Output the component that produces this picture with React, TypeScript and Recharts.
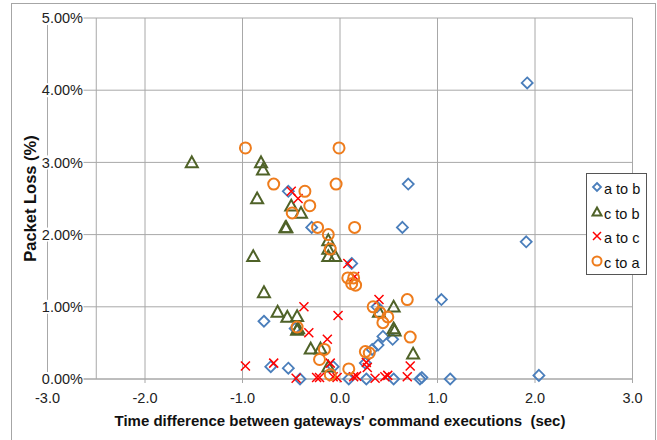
import { ScatterChart, Scatter, XAxis, YAxis, CartesianGrid, ReferenceLine, Legend } from "recharts";

const xTicks = [-3, -2, -1, 0, 1, 2, 3];
const yTicks = [0, 1, 2, 3, 4, 5];

// [time difference (sec), packet loss (%)]
const aToB = [
    [-0.78, 0.8], [-0.71, 0.17], [-0.53, 0.15], [-0.53, 2.6], [-0.46, 0.7], [-0.41, 0.0],
    [-0.29, 2.1], [-0.07, 0.17], [0.09, 0.0], [0.12, 1.6], [0.26, 0.22], [0.27, 0.0],
    [0.33, 0.41], [0.39, 0.47], [0.38, 1.0], [0.44, 0.59], [0.54, 0.55], [0.55, 0.0],
    [0.64, 2.1], [0.7, 2.7], [0.82, 0.0], [0.84, 0.02], [1.04, 1.1], [1.13, 0.0],
    [1.91, 1.9], [1.92, 4.1], [2.04, 0.05],
];
const cToB = [
    [-1.52, 3.0], [-0.89, 1.7], [-0.85, 2.5], [-0.81, 3.0], [-0.79, 2.9], [-0.78, 1.2],
    [-0.64, 0.93], [-0.56, 2.1], [-0.55, 2.1], [-0.54, 0.86], [-0.5, 2.4], [-0.44, 0.87],
    [-0.44, 0.68], [-0.43, 0.7], [-0.4, 2.3], [-0.3, 0.42], [-0.2, 0.42], [-0.12, 1.92],
    [-0.12, 1.8], [-0.12, 1.7], [-0.12, 0.17], [-0.05, 1.7], [0.4, 0.93], [0.55, 1.0],
    [0.55, 0.7], [0.56, 0.67], [0.75, 0.35],
];
const aToC = [
    [-0.97, 0.18], [-0.68, 0.22], [-0.5, 2.6], [-0.45, 0.01], [-0.43, 2.5], [-0.37, 1.0],
    [-0.32, 0.64], [-0.24, 0.02], [-0.21, 0.02], [-0.13, 0.55], [-0.1, 0.22], [-0.07, 0.03],
    [-0.03, 0.02], [-0.02, 0.88], [0.08, 1.6], [0.14, 0.03], [0.15, 1.42], [0.17, 0.04],
    [0.27, 0.23], [0.28, 0.16], [0.36, 0.01], [0.4, 1.1], [0.46, 0.03], [0.49, 0.05],
    [0.69, 0.03], [0.72, 0.18],
];
const cToA = [
    [-0.97, 3.2], [-0.68, 2.7], [-0.49, 2.3], [-0.44, 0.72], [-0.36, 2.6], [-0.31, 2.4],
    [-0.23, 2.1], [-0.21, 0.27], [-0.16, 0.41], [-0.12, 2.0], [-0.1, 1.8], [-0.1, 0.06],
    [-0.04, 2.7], [-0.01, 3.2], [0.08, 1.4], [0.09, 0.14], [0.12, 1.32], [0.14, 1.4],
    [0.16, 1.3], [0.15, 2.1], [0.26, 0.38], [0.3, 0.36], [0.34, 1.0], [0.41, 0.92],
    [0.44, 0.78], [0.49, 0.86], [0.69, 1.1], [0.72, 0.58],
];

const toPoints = (arr: number[][]) => arr.map(([x, y]) => ({ x, y }));

const BLUE = "#4A7EBB";
const GREEN = "#4F6228";
const RED = "#FF0000";
const ORANGE = "#EE7C1C";
const GRID = "#A8A8A8";
const FONT = "'Liberation Sans', Arial, sans-serif";

const Diamond = ({ cx, cy, s = 5.5 }: any) => (
    <path d={`M${cx},${cy - s}L${cx + s},${cy}L${cx},${cy + s}L${cx - s},${cy}Z`} fill="none" stroke={BLUE} strokeWidth={1.8} />
);
const Triangle = ({ cx, cy, s = 6 }: any) => (
    <path d={`M${cx},${cy - s}L${cx + s},${cy + s * 0.8}L${cx - s},${cy + s * 0.8}Z`} fill="none" stroke={GREEN} strokeWidth={2} strokeLinejoin="miter" />
);
const Cross = ({ cx, cy, s = 4.5 }: any) => (
    <path d={`M${cx - s},${cy - s}L${cx + s},${cy + s}M${cx + s},${cy - s}L${cx - s},${cy + s}`} stroke={RED} strokeWidth={1.5} />
);
const Ring = ({ cx, cy, s = 5.5 }: any) => (
    <circle cx={cx} cy={cy} r={s} fill="none" stroke={ORANGE} strokeWidth={2} />
);

const legendItems = [
    { name: "a to b", Mark: Diamond, s: 4 },
    { name: "c to b", Mark: Triangle, s: 4.5 },
    { name: "a to c", Mark: Cross, s: 4 },
    { name: "c to a", Mark: Ring, s: 4.5 },
];

const LegendBox = () => (
    <div style={{ width: 59, height: 97, border: "1px solid #555", background: "#fff", fontFamily: FONT, fontSize: 14.5, color: "#111", paddingTop: 3, boxSizing: "content-box" }}>
        {legendItems.map(({ name, Mark, s }) => (
            <div key={name} style={{ height: 24.5, display: "flex", alignItems: "center" }}>
                <svg width={18} height={20} style={{ display: "block" }}>
                    <Mark cx={10} cy={8} s={s} />
                </svg>
                <span style={{ marginLeft: -1 }}>{name}</span>
            </div>
        ))}
    </div>
);

const YTick = (props: any) => {
    const { x, y, payload } = props;
    return (
        <g>
            <rect x={x - 7} y={y - 7} width={43} height={14} fill="#fff" />
            <text x={x + 35.5} y={y} dy="0.36em" textAnchor="end" fontSize={14.5} fontFamily={FONT} fill="#222">
                {Number(payload.value).toFixed(2)}%
            </text>
        </g>
    );
};

const YTitle = (props: any) => {
    const vb = props.viewBox || {};
    const cx = vb.x - 16.5;
    const cy = vb.y + vb.height / 2;
    return (
        <text x={cx} y={cy} transform={`rotate(-90 ${cx} ${cy})`} textAnchor="middle" dy="0.35em" fontSize={16.5} fontWeight="bold" fontFamily={FONT} fill="#111">
            Packet Loss (%)
        </text>
    );
};

export default function App() {
    return (
        <div style={{ position: "absolute", left: 0, top: 0, width: 657, height: 440, background: "#fff", overflow: "hidden" }}>
            <div style={{ position: "absolute", left: 11, top: 3, width: 643, height: 450, border: "1px solid #A6A6A6" }} />
            <ScatterChart width={657} height={440} margin={{ top: 18, right: 24.5, bottom: 11, left: 46.5 }}>
                <CartesianGrid stroke={GRID} strokeWidth={1} />
                <XAxis
                    type="number"
                    dataKey="x"
                    domain={[-3, 3]}
                    ticks={xTicks}
                    tickFormatter={(v: number) => v.toFixed(1)}
                    axisLine={{ stroke: GRID }}
                    tickLine={{ stroke: GRID }}
                    tickSize={4}
                    tickMargin={10}
                    height={50}
                    tick={{ fontSize: 14.5, fontFamily: FONT, fill: "#222" }}
                    label={{
                        value: "Time difference between gateways' command executions \u00A0(sec)",
                        position: "insideBottom",
                        offset: 3,
                        style: { fontSize: 15, fontWeight: "bold", fontFamily: FONT, fill: "#111" },
                    }}
                />
                <YAxis
                    type="number"
                    dataKey="y"
                    domain={[0, 5]}
                    ticks={yTicks}
                    width={1}
                    axisLine={false}
                    tickLine={false}
                    tickSize={0}
                    tickMargin={0}
                    tick={(p: any) => <YTick {...p} />}
                    label={(p: any) => <YTitle {...p} />}
                />
                <ReferenceLine x={-2.5} stroke={GRID} strokeWidth={1} />
                <Legend layout="horizontal" verticalAlign="middle" align="center" content={<LegendBox />}
                    wrapperStyle={{ position: "absolute", left: 586, top: 173, width: 61, height: 100 }} />
                <Scatter name="a to b" data={toPoints(aToB)} shape={(p: any) => <Diamond cx={p.cx} cy={p.cy} />} isAnimationActive={false} />
                <Scatter name="c to b" data={toPoints(cToB)} shape={(p: any) => <Triangle cx={p.cx} cy={p.cy} />} isAnimationActive={false} />
                <Scatter name="a to c" data={toPoints(aToC)} shape={(p: any) => <Cross cx={p.cx} cy={p.cy} />} isAnimationActive={false} />
                <Scatter name="c to a" data={toPoints(cToA)} shape={(p: any) => <Ring cx={p.cx} cy={p.cy} />} isAnimationActive={false} />
            </ScatterChart>
        </div>
    );
}
